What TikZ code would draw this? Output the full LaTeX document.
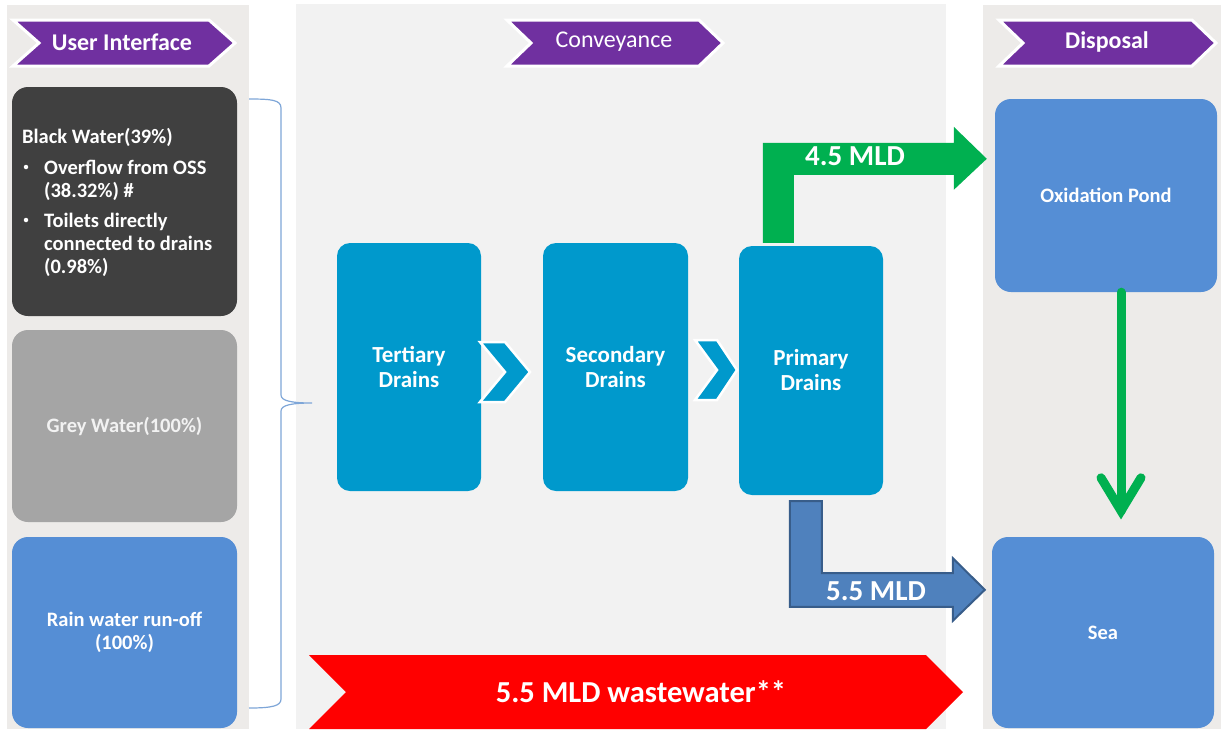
\documentclass[tikz,border=0pt]{standalone}
\usepackage{fontspec}
\setmainfont{Carlito}
\usetikzlibrary{calc}
\definecolor{purp}{HTML}{7030A0}
\definecolor{drain}{HTML}{0099CC}
\definecolor{sky}{HTML}{558ED5}
\definecolor{darkb}{HTML}{404040}
\definecolor{greyb}{HTML}{A5A5A5}
\definecolor{grn}{HTML}{00B050}
\definecolor{barrow}{HTML}{4F81BD}
\definecolor{bedge}{HTML}{385D8A}
\definecolor{panelA}{HTML}{EDEBE9}
\definecolor{panelB}{HTML}{F2F2F2}
\definecolor{bracec}{HTML}{7EA6D8}
\definecolor{redb}{HTML}{FF0000}
\newcommand\fsz[2]{\fontsize{#1}{#2}\selectfont}
\begin{document}
\begin{tikzpicture}[x=1pt,y=-1pt,
  box/.style={rounded corners=16pt, inner sep=0pt, text=white, align=center, font=\fsz{20.5}{23}\bfseries},
  drainbox/.style={fill=drain, rounded corners=13pt, inner sep=0pt, text=white, align=center, minimum width=144pt, font=\fsz{23}{25}\bfseries},
  banner/.style={fill=purp, draw=white, line width=3pt, line join=miter},
  bantext/.style={text=white, inner sep=0pt, font=\fsz{24}{26}\bfseries},
  chev/.style={fill=drain, draw=white, line width=2.5pt, line join=miter},
  bwtext/.style={anchor=base west, inner sep=0pt, text=white, font=\fsz{20.5}{23}\bfseries},
  bulletdot/.style={circle, fill=white, inner sep=0pt, minimum size=4.5pt},
  flowtext/.style={text=white, inner sep=0pt, font=\fsz{29}{30}\bfseries},
  gline/.style={draw=grn, line width=9pt, line cap=round},
  bracestyle/.style={draw=bracec, line width=1.2pt}]
\useasboundingbox (0,0) rectangle (1221,729);
\fill[white] (0,0) rectangle (1221,729);
% panels
\fill[panelA] (7,5) rectangle (249,729);
\fill[panelB] (296,4) rectangle (946,729);
\fill[panelA] (983,5) rectangle (1221,729);
% banners
\draw[banner] (13,20) -- (209,20) -- (235,43) -- (209,66) -- (13,66) -- (39,43) -- cycle;
\node[bantext] (ui) at (122,42) {User Interface};
\draw[banner] (507,20) -- (699,20) -- (723,43) -- (699,66) -- (507,66) -- (531,43) -- cycle;
\node[bantext, font=\fsz{24}{26}] (conv) at (614,42) {Conveyance};
\draw[banner] (999,20) -- (1192,20) -- (1216,43) -- (1192,66) -- (999,66) -- (1023,43) -- cycle;
\node[bantext] (disp) at (1107,42) {Disposal};
% user interface boxes
\node[box, fill=darkb, minimum width=225pt, minimum height=229pt] (black) at (124.5,201.5) {};
\node[bwtext] (bw1) at (22,143) {Black Water(39\%)};
\node[bulletdot] (bwb1) at (26,167) {};
\node[bwtext] (bw2) at (44,174) {Overflow from OSS};
\node[bwtext] (bw3) at (44,197) {(38.32\%) \#};
\node[bulletdot] (bwb2) at (26,220) {};
\node[bwtext] (bw4) at (44,227) {Toilets directly};
\node[bwtext] (bw5) at (44,250) {connected to drains};
\node[bwtext] (bw6) at (44,273) {(0.98\%)};
\node[box, fill=greyb, text=panelB, minimum width=225pt, minimum height=192pt] (grey) at (124.5,426) {Grey Water(100\%)};
\node[box, fill=sky, minimum width=225pt, minimum height=191pt] (rain) at (124.5,632.5) {Rain water run-off\\(100\%)};
% brace
\draw[bracestyle] (249,99) .. controls (272,99) and (281,100) .. (281,108) -- (281,395)
  .. controls (281,401) and (292,403) .. (312,403)
  .. controls (292,403) and (281,405) .. (281,411) -- (281,699)
  .. controls (281,706) and (272,708) .. (249,708);
% drains
\node[drainbox, minimum height=248pt] (tert) at (409,367) {Tertiary\\Drains};
\node[drainbox, minimum height=248pt, minimum width=145pt] (sec) at (615.5,367) {Secondary\\Drains};
\node[drainbox, minimum height=249pt] (prim) at (811,370.5) {Primary\\Drains};
\draw[chev] (480,342) -- (505,342) -- (530,372) -- (505,402) -- (480,402) -- (505,372) -- cycle;
\draw[chev] (695,340) -- (717,340) -- (737,370) -- (717,400) -- (695,400) -- (717,370) -- cycle;
% disposal boxes
\node[box, fill=sky, minimum width=222pt, minimum height=193pt] (ox) at (1106,195.5) {Oxidation Pond};
\node[box, fill=sky, minimum width=222pt, minimum height=191pt] (sea) at (1103,632.5) {Sea};
% green L arrow primary -> oxidation pond
\fill[grn] ($(prim.north west)+(24,-3)$) -- ++(0,-100) -- ++(191,0) -- ++(0,-16)
  -- ($(ox.north west)+(-8,60)$) -- ++(-33,31) -- ++(0,-15) -- ++(-160,0) -- ++(0,68) -- cycle;
\node[flowtext] (f45) at (855,156) {4.5 MLD};
% blue L arrow primary -> sea
\draw[fill=barrow, draw=bedge, line width=2pt, line join=miter]
  ($(prim.south west)+(51,6)$) -- ++(32,0) -- ++(0,72) -- ++(131,0) -- ++(0,-15)
  -- ($(sea.north west)+(-7,53)$) -- ++(-32,31) -- ++(0,-14) -- ++(-163,0) -- cycle;
\node[flowtext] (f55) at (876,591) {5.5 MLD};
% green down arrow oxidation pond -> sea
\coordinate (gtip) at ($(sea.north)+(18,-26)$);
\draw[gline] ($(ox.south)+(15,0)$) -- (gtip);
\draw[gline, line join=miter, line cap=round] ($(gtip)+(-20,-33)$) -- (gtip) -- ($(gtip)+(20,-33)$);
% red wastewater banner
\fill[redb] (309,655) -- (926,655) -- (963,692) -- (926,729) -- (309,729) -- (346,692) -- cycle;
\node[text=white, inner sep=0pt, font=\fsz{30.5}{32}\bfseries] (ww) at (641,692) {5.5 MLD wastewater**};
\end{tikzpicture}
\end{document}
